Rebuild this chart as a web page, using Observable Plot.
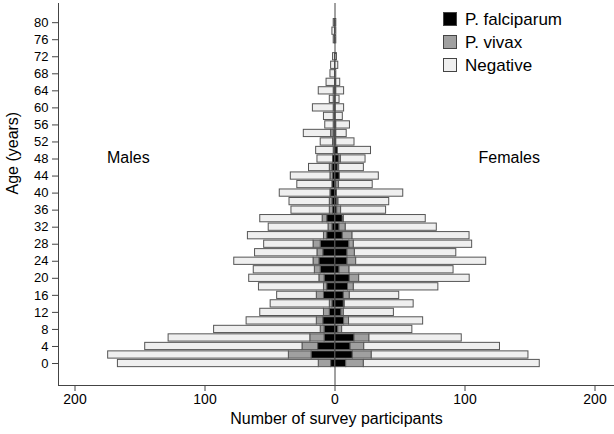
<!DOCTYPE html>
<html><head><meta charset="utf-8">
<script src="https://cdn.jsdelivr.net/npm/d3@7"></script>
<script src="https://cdn.jsdelivr.net/npm/@observablehq/plot@0.6"></script>
<style>
body{margin:0;background:#fff;font-family:"Liberation Sans",Arial,sans-serif;}
#wrap{position:relative;width:614px;height:434px;}
.sw{position:absolute;left:443px;width:12px;height:12px;border:1px solid #444;box-sizing:content-box;}
.lt{position:absolute;left:465px;font-size:17px;line-height:17px;color:#000;white-space:nowrap;}
</style></head><body><div id="wrap"></div>
<script>
const ages = [0,2,4,6,8,10,12,14,16,18,20,22,24,26,28,30,32,34,36,38,40,42,44,46,48,50,52,54,56,58,60,62,64,66,68,70,72,74,76,78,80];
const maleFalc  = [3,18,13,8,8,9,4,2,8.5,6,8,11,12,9,11,6,2,6,1.5,2,3,2,1.5,2,1.5,1,0.5,1,0,0,1,0,1,0,0,0,0,0,0,0,0];
const maleVivax = [9.5,17.5,12,11,3,5,4.5,2,5.5,2.5,4,4.5,4.5,4.5,5.5,2.5,3,3.5,2.5,2,0.5,0,2,2,0,0,1,2,1,1,0,1,0,0,0,0,0,0,1,0,1];
const maleNeg   = [154.5,139,121,109,82,54,49,45.5,30.5,50,54,47,61,48,38,58.5,46,48,29.5,31,39,27,30.5,16,12,13.5,9.5,21,6.5,7.5,16,3,11.5,6.5,3.5,3,1.5,0,0,2,0];
const femFalc   = [8.6,13.7,12,15,2.5,7,5,6.8,6.8,10,11.4,3.5,9.6,9.6,11,6,3.5,6,1.7,1.7,1.5,1,3.7,2.2,3,2.2,1,1,1,0.5,0.5,0.5,1,1,0,0,0,0,0,0,0];
const femVivax  = [13.6,14.6,10.5,11.5,3,3.8,1.8,0.7,4.6,4.5,7.2,7.7,6.7,5.7,3.5,7.5,4.8,0.8,3,1,0,2,0,1,1.5,0,0,0,0,0,0,0,0,0,0,0,0,0,1,0,1];
const femNeg    = [135.3,120.5,104.4,71,54,57,38.5,53,38,65,85,80,100,78,91,90,70,63,34.6,39,51,26,30,19,19,25.5,14,8,10.5,5.5,6.5,3,6,3,1,2.5,1.5,0,0,1,0];

const categories = ["P. falciparum","P. vivax","Negative"];
const catColors = ["#000000","#a0a0a0","#efefef"];
const xTicks = [-200,-100,0,100,200];
const yTicks = [0,4,8,12,16,20,24,28,32,36,40,44,48,52,56,60,64,68,72,76,80];
const sideLabels = ["Males","Females"];
const sideX = [-159,134];
const sideY = [48.2,48.2];
const xTitle = "Number of survey participants";
const yTitle = "Age (years)";

const rows = [];
ages.forEach((a,i)=>{
  [[-1,[maleFalc,maleVivax,maleNeg]],[1,[femFalc,femVivax,femNeg]]].forEach(([s,arrs])=>{
    let c = 0;
    arrs.forEach((arr,k)=>{
      const v = arr[i];
      if (v > 0) rows.push({age:a, x1:s*c, x2:s*(c+v), cat:categories[k]});
      c += v;
    });
  });
});
const sides = sideLabels.map((t,i)=>({t, x:sideX[i], y:sideY[i]}));

const chart = Plot.plot({
  width:614, height:434,
  marginLeft:58, marginRight:0, marginTop:3, marginBottom:49,
  style:{fontFamily:"'Liberation Sans', Arial, sans-serif", background:"#fff", color:"#000"},
  x:{domain:[-212.7,215]},
  y:{domain:[-5.16,84.5]},
  color:{domain:categories, range:catColors},
  marks:[
    Plot.rect(rows,{x1:"x1",x2:"x2",y1:d=>d.age-0.85,y2:d=>d.age+0.85,fill:"cat",stroke:"#555",strokeWidth:1}),
    Plot.ruleX([0],{stroke:"#444",strokeWidth:1}),
    Plot.frame({anchor:"left",stroke:"#444"}),
    Plot.frame({anchor:"bottom",stroke:"#444"}),
    Plot.axisX({ticks:xTicks, tickFormat:d=>Math.abs(d), tickSize:6, tickPadding:3, fontSize:14, label:null, stroke:"#444"}),
    Plot.axisY({ticks:yTicks, tickSize:6, tickPadding:4, fontSize:13, label:null, stroke:"#444"}),
    Plot.text(sides,{x:"x",y:"y",text:"t",fontSize:16}),
    Plot.text([xTitle],{frameAnchor:"bottom",dy:38,fontSize:16}),
    Plot.text([yTitle],{frameAnchor:"left",rotate:-90,dx:-46,fontSize:16})
  ]
});
const wrap = document.getElementById("wrap");
wrap.appendChild(chart);
const legTops = [12,35,58];
categories.forEach((c,i)=>{
  const s = document.createElement("div");
  s.className = "sw"; s.style.top = legTops[i]+"px"; s.style.background = catColors[i];
  wrap.appendChild(s);
  const t = document.createElement("div");
  t.className = "lt"; t.style.top = (legTops[i]-1)+"px"; t.textContent = c;
  wrap.appendChild(t);
});
</script></body></html>
